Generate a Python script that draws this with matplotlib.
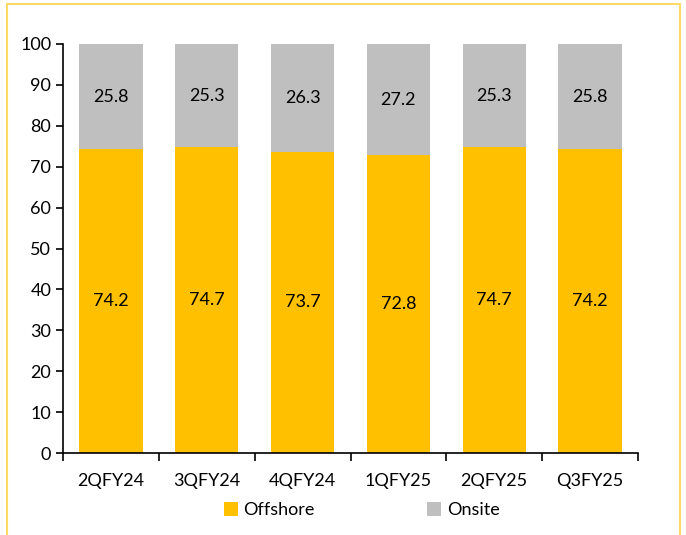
import matplotlib
matplotlib.use("Agg")
import matplotlib.pyplot as plt
from matplotlib.patches import Rectangle
import numpy as np

categories = ["2QFY24", "3QFY24", "4QFY24", "1QFY25", "2QFY25", "Q3FY25"]
offshore = [74.2, 74.7, 73.7, 72.8, 74.7, 74.2]
onsite = [25.8, 25.3, 26.3, 27.2, 25.3, 25.8]

plt.rcParams['font.family'] = ['Lato', 'DejaVu Sans']
fig = plt.figure(figsize=(6.86, 5.35), dpi=100)
ax = fig.add_axes([0.092, 0.153, 0.838, 0.765])

FS = 13
x = np.arange(len(categories))
w = 0.66
b1 = ax.bar(x, offshore, w, color='#FFC000', label='Offshore')
b2 = ax.bar(x, onsite, w, bottom=offshore, color='#BFBFBF', label='Onsite')
for i in range(len(categories)):
    ax.text(x[i], offshore[i] / 2, f"{offshore[i]:.1f}", ha='center', va='center', fontsize=FS, color='black')
    ax.text(x[i], offshore[i] + onsite[i] / 2, f"{onsite[i]:.1f}", ha='center', va='center', fontsize=FS, color='black')

ax.set_xlim(-0.5, len(categories) - 0.5)
ax.set_ylim(0, 100)
ax.set_yticks(range(0, 101, 10))
ax.tick_params(axis='y', labelsize=FS, length=5, width=1.2, direction='out')
ax.set_xticks(x)
ax.set_xticklabels(categories, fontsize=FS)
ax.tick_params(axis='x', length=0, pad=14)
ax.set_xticks(np.arange(-0.5, len(categories)), minor=True)
ax.tick_params(axis='x', which='minor', length=6, width=1.2, direction='out')
for s in ['top', 'right']:
    ax.spines[s].set_visible(False)
for s in ['left', 'bottom']:
    ax.spines[s].set_linewidth(1.2)

leg = fig.legend(handles=[b1, b2], labels=['Offshore', 'Onsite'], loc='center', bbox_to_anchor=(0.527, 0.046),
                 ncol=2, frameon=False, fontsize=FS, handlelength=0.8, handleheight=0.8,
                 handletextpad=0.3, columnspacing=6.2)

fig.patches.append(Rectangle((7 / 686, -0.1), (680 - 7) / 686, 1 - 4 / 535 + 0.1, transform=fig.transFigure,
                             fill=False, edgecolor='#FFD966', linewidth=1.5))
fig.savefig('out.png', dpi=100)
